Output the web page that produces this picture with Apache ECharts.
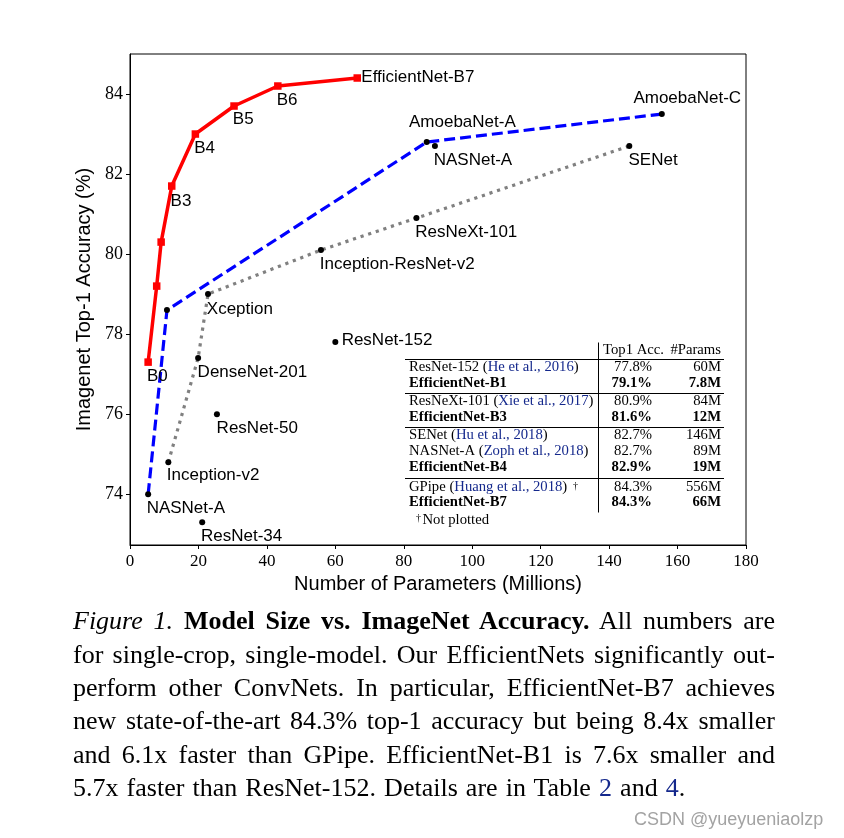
<!DOCTYPE html>
<html>
<head>
<meta charset="utf-8">
<script src="https://cdn.jsdelivr.net/npm/echarts@6/dist/echarts.min.js"></script>
<style>
html,body{margin:0;padding:0;background:#fff;}
#chart{position:absolute;left:0;top:0;width:844px;height:838px;}
#caption{position:absolute;left:73px;top:604.4px;width:702px;font-family:"Liberation Serif",serif;font-size:26px;line-height:33.3px;color:#000;}
#caption div{white-space:nowrap;text-align:justify;text-align-last:justify;}
#caption div.last{text-align:left;text-align-last:left;word-spacing:1.6px;}
#caption .ref{color:#14288c;}
#wm{position:absolute;left:634px;top:809.8px;font-family:"Liberation Sans",Arial,sans-serif;font-size:18px;line-height:18px;color:#a3a3a3;white-space:nowrap;}
</style>
</head>
<body>
<div id="chart"></div>
<div id="caption">
<div><i>Figure 1.</i> <b>Model Size vs. ImageNet Accuracy.</b> All numbers are</div>
<div>for single-crop, single-model. Our EfficientNets significantly out-</div>
<div>perform other ConvNets. In particular, EfficientNet-B7 achieves</div>
<div>new state-of-the-art 84.3% top-1 accuracy but being 8.4x smaller</div>
<div>and 6.1x faster than GPipe. EfficientNet-B1 is 7.6x smaller and</div>
<div class="last">5.7x faster than ResNet-152. Details are in Table <span class="ref">2</span> and <span class="ref">4</span>.</div>
</div>
<div id="wm">CSDN @yueyueniaolzp</div>
<script>
// ---------------- DATA ----------------
// EfficientNet family (red line)
const effLabels = ['B0', '', '', 'B3', 'B4', 'B5', 'B6', 'EfficientNet-B7'];
const effParams = [5.3, 7.8, 9.1, 12.2, 19.1, 30.4, 43.2, 66.4];
const effAcc    = [77.3, 79.2, 80.3, 81.7, 83.0, 83.7, 84.2, 84.4];

// Other ConvNets (black dots)
const modelLabels = ['NASNet-A', '', 'AmoebaNet-A', 'AmoebaNet-C', 'Inception-v2', 'DenseNet-201',
  'Xception', 'Inception-ResNet-v2', 'ResNeXt-101', 'SENet', 'NASNet-A', 'ResNet-152', 'ResNet-50', 'ResNet-34'];
const modelParams = [5.3, 10.8, 86.7, 155.4, 11.2, 19.9, 22.8, 55.8, 83.7, 145.9, 89.1, 60.0, 25.4, 21.1];
const modelAcc    = [74.0, 78.6, 82.8, 83.5, 74.8, 77.4, 79.0, 80.1, 80.9, 82.7, 82.7, 77.8, 76.0, 73.3];

// Which models are joined by the blue dashed and gray dotted lines (indices into the arrays above)
const blueLineIdx = [0, 1, 2, 3];
const grayLineIdx = [4, 5, 6, 7, 8, 9];

// Axis ticks
const xTicks = [0, 20, 40, 60, 80, 100, 120, 140, 160, 180];
const yTicks = [74, 76, 78, 80, 82, 84];

// Inset table
const tableHeader = ['Top1 Acc.', '#Params'];
const tableNames  = ['ResNet-152', 'EfficientNet-B1', 'ResNeXt-101', 'EfficientNet-B3', 'SENet', 'NASNet-A', 'EfficientNet-B4', 'GPipe', 'EfficientNet-B7'];
const tableCites  = ['He et al., 2016', '', 'Xie et al., 2017', '', 'Hu et al., 2018', 'Zoph et al., 2018', '', 'Huang et al., 2018', ''];
const tableAcc    = ['77.8%', '79.1%', '80.9%', '81.6%', '82.7%', '82.7%', '82.9%', '84.3%', '84.3%'];
const tableParams = ['60M', '7.8M', '84M', '12M', '146M', '89M', '19M', '556M', '66M'];
const tableBold   = [false, true, false, true, false, false, true, false, true];
const tableNote   = 'Not plotted';

// ---------------- LAYOUT / STYLE ----------------
const effPlace = [['below', -1.2, 5.3], null, null, ['below', -1.2, 6.8], ['below', -1.2, 5.5],
  ['below', -1.2, 5.2], ['below', -1.2, 6.1], ['right', 4.1, -0.7]];
const modelPlace = [['below', -1.5, 5.2], null, ['above', -17.7, -10.8], ['above', -28.4, -7.4],
  ['below', -1.5, 5.1], ['below', -0.5, 5.5], ['below', -1.2, 7], ['below', -1.2, 5.8],
  ['below', -1.2, 6.2], ['below', -0.8, 6.1], ['below', -1.2, 5.4], ['right', 6.3, -2],
  ['below', -0.3, 5.5], ['below', -1.2, 5.5]];

const SANS = '"Liberation Sans", Arial, sans-serif';
const SERIF = '"Liberation Serif", "Times New Roman", serif';

function makeLabel(text, place) {
  if (!text || !place) return { show: false };
  const kind = place[0];
  return {
    show: true,
    formatter: text,
    position: 'inside',
    align: 'left',
    verticalAlign: kind === 'below' ? 'top' : (kind === 'right' ? 'middle' : 'bottom'),
    offset: [place[1], place[2]],
    color: '#000',
    opacity: 1,
    fontFamily: SANS,
    fontSize: 17,
    textBorderWidth: 0
  };
}

// ---------------- TABLE GRAPHICS ----------------
const TFS = 14.7;
const CITE = '#14288c';
const rowBase = [371.7, 388.3, 406, 422.3, 440, 456, 472.3, 491.7, 506.7];
const headBase = 355;
const mid = b => b - 0.3375 * TFS;
const gEls = [];
function addText(x, y, text, align, bold, extra) {
  const font = (bold ? 'bold ' : '') + TFS + 'px ' + SERIF;
  gEls.push({
    type: 'text', x: x, y: y, silent: true, z: 100,
    style: Object.assign({
      text: text, fill: '#000', font: font,
      align: align, textAlign: align, verticalAlign: 'middle', textVerticalAlign: 'middle'
    }, extra || {})
  });
}
function addLine(x1, y1, x2, y2) {
  gEls.push({ type: 'line', silent: true, z: 100, shape: { x1, y1, x2, y2 }, style: { stroke: '#000', lineWidth: 1 } });
}
addText(603, mid(headBase), tableHeader[0], 'left', false);
addText(721, mid(headBase), tableHeader[1], 'right', false);
for (let i = 0; i < tableNames.length; i++) {
  const y = mid(rowBase[i]);
  const bold = tableBold[i];
  if (tableCites[i]) {
    addText(409, y, tableNames[i] + ' (' + '{c|' + tableCites[i] + '})', 'left', bold, {
      rich: { c: { fill: CITE, font: TFS + 'px ' + SERIF } }
    });
  } else {
    addText(409, y, tableNames[i], 'left', bold);
  }
  addText(652, y, tableAcc[i], 'right', bold);
  addText(721, y, tableParams[i], 'right', bold);
}
// dagger marks
gEls.push({ type: 'text', x: 573, y: 486, silent: true, z: 100,
  style: { text: '\u2020', fill: '#000', font: '10px ' + SERIF, align: 'left', textAlign: 'left', verticalAlign: 'middle', textVerticalAlign: 'middle' } });
gEls.push({ type: 'text', x: 416, y: 518, silent: true, z: 100,
  style: { text: '\u2020', fill: '#000', font: '10px ' + SERIF, align: 'left', textAlign: 'left', verticalAlign: 'middle', textVerticalAlign: 'middle' } });
addText(422.5, mid(525), tableNote, 'left', false);
// rules
addLine(405, 359.5, 724, 359.5);
addLine(405, 393.5, 724, 393.5);
addLine(405, 427.5, 724, 427.5);
addLine(405, 478.5, 724, 478.5);
addLine(598.5, 342.5, 598.5, 512.5);

// ---------------- CHART ----------------
const chart = echarts.init(document.getElementById('chart'), null, { renderer: 'canvas' });
const option = {
  animation: false,
  backgroundColor: '#fff',
  grid: {
    left: 130, right: 98, top: 54, bottom: 293,
    show: true, borderColor: '#000', borderWidth: 1, backgroundColor: 'transparent',
    containLabel: false, outerBoundsMode: 'none'
  },
  xAxis: {
    type: 'value', min: xTicks[0], max: xTicks[xTicks.length - 1], interval: 20,
    name: 'Number of Parameters (Millions)', nameLocation: 'middle', nameGap: 27,
    nameTextStyle: { fontFamily: SANS, fontSize: 20, color: '#000' },
    axisLine: { show: true, onZero: false, lineStyle: { color: '#000', width: 1 } },
    axisTick: { show: true, inside: false, length: 4, lineStyle: { color: '#000', width: 1 } },
    axisLabel: { color: '#000', fontFamily: SERIF, fontSize: 17, margin: 8 },
    splitLine: { show: false }
  },
  yAxis: {
    type: 'value', min: 72.73, max: 85,
    name: 'Imagenet Top-1 Accuracy (%)', nameLocation: 'middle', nameGap: 30, nameRotate: 90,
    nameTextStyle: { fontFamily: SANS, fontSize: 20, color: '#000' },
    axisLine: { show: true, onZero: false, lineStyle: { color: '#000', width: 1 } },
    axisTick: { show: true, inside: false, length: 4, customValues: yTicks, lineStyle: { color: '#000', width: 1 } },
    axisLabel: { color: '#000', fontFamily: SERIF, fontSize: 18, margin: 7, customValues: yTicks },
    splitLine: { show: false }
  },
  series: [
    {
      type: 'line', silent: true, symbol: 'none',
      data: grayLineIdx.map(i => [modelParams[i], modelAcc[i]]),
      lineStyle: { color: '#808080', width: 3.2, type: [3.2, 4.8], cap: 'butt' },
      z: 2
    },
    {
      type: 'line', silent: true, symbol: 'none',
      data: blueLineIdx.map(i => [modelParams[i], modelAcc[i]]),
      lineStyle: { color: '#0000ff', width: 3.2, type: [11, 5], cap: 'butt' },
      z: 2
    },
    {
      type: 'line', silent: true, symbol: 'rect', symbolSize: 7.5, showAllSymbol: true,
      itemStyle: { color: '#ff0000', borderWidth: 0, opacity: 1 },
      lineStyle: { color: '#ff0000', width: 3.5 },
      data: effParams.map((x, i) => ({ value: [x, effAcc[i]], label: makeLabel(effLabels[i], effPlace[i]) })),
      z: 3
    },
    {
      type: 'scatter', silent: true, symbol: 'circle', symbolSize: 6,
      itemStyle: { color: '#000', opacity: 1 },
      data: modelParams.map((x, i) => ({ value: [x, modelAcc[i]], label: makeLabel(modelLabels[i], modelPlace[i]) })),
      z: 4
    }
  ],
  graphic: { elements: gEls }
};
chart.setOption(option);
</script>
</body>
</html>
